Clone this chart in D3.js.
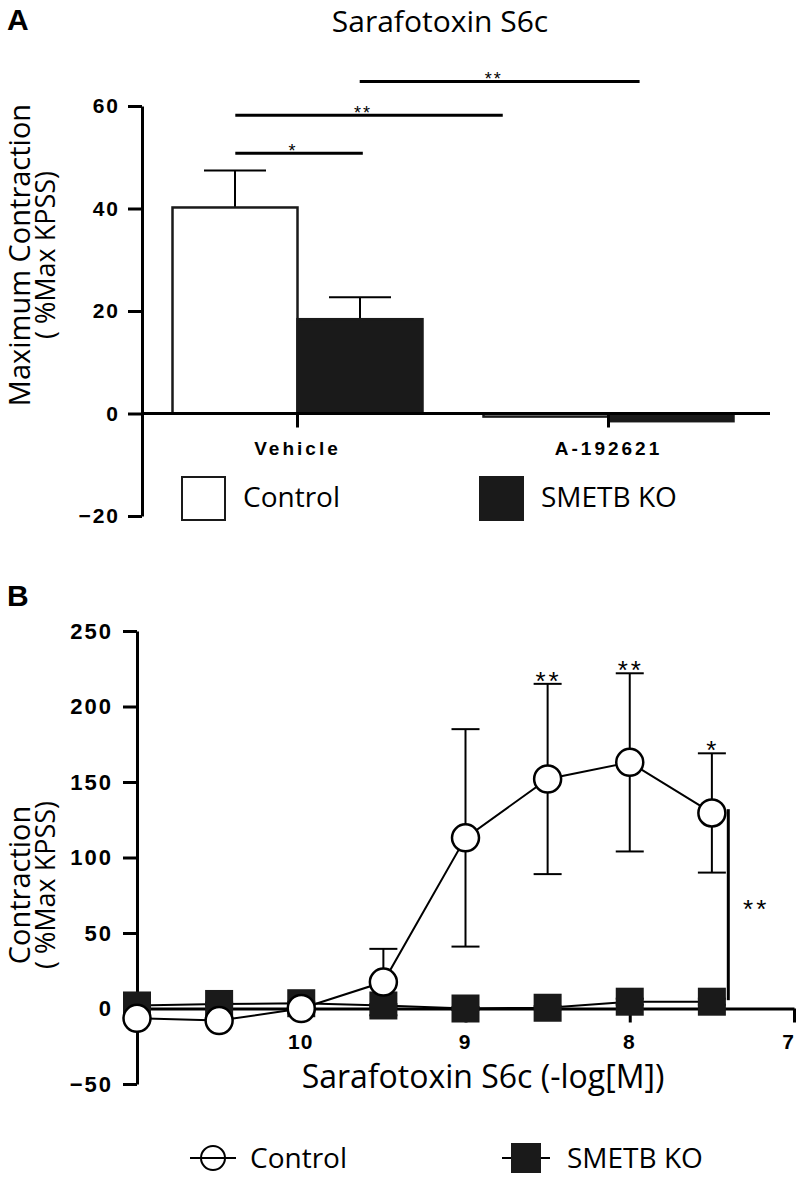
<!DOCTYPE html>
<html>
<head>
<meta charset="utf-8">
<script src="https://cdn.jsdelivr.net/npm/d3@7"></script>
<style>
body { margin: 0; background: #fff; }
.lab { font-family: "Open Sans", sans-serif; fill: #000; }
.tick text { font-family: "Liberation Sans", Arial, sans-serif; font-weight: bold; fill: #000; }
</style>
</head>
<body>
<script>
// panel A - maximum contraction
const categories = ["Vehicle", "A-192621"];
const groups = ["Control", "SMETB KO"];
const controlMax = [40.2, -0.6];
const controlMaxErr = [7.2, 0];
const koMax = [18.4, -1.5];
const koMaxErr = [4.3, 0];
const yTicksA = [-20, 0, 20, 40, 60];
// significance bars (position 0 = Vehicle, 1 = A-192621)
const sigFrom = [-0.2, -0.2, 0.2];
const sigTo = [0.21, 0.66, 1.1];
const sigLevel = [50.8, 58.2, 64.8];
const sigLabel = ["*", "**", "**"];

// panel B - concentration response
const doses = [11, 10.5, 10, 9.5, 9, 8.5, 8, 7.5];
const controlResp = [-6.5, -8, 0, 17.5, 113, 152, 163, 129.5];
const controlErr = [2, 2, 2, 22, 72, 63, 59, 39.5];
const koResp = [2, 3, 3.5, 2, 0, 0.5, 4.5, 4.5];
const koErr = [1, 1, 1, 1, 1, 1, 2, 2];
const starsB = ["", "", "", "", "", "**", "**", "*"];
const xTicksB = [10, 9, 8, 7];
const yTicksB = [-50, 0, 50, 100, 150, 200, 250];

const w = 800, h = 1179;
const svg = d3.select("body").append("svg")
  .attr("width", w).attr("height", h);

// ---------------- panel A ----------------
svg.append("text").attr("class", "lab").attr("x", 7).attr("y", 30)
  .style("font-family", "Liberation Sans, Arial").style("font-weight", "bold")
  .style("font-size", "30px").text("A");
svg.append("text").attr("class", "lab").attr("x", 440).attr("y", 32)
  .attr("text-anchor", "middle").style("font-size", "30px").text("Sarafotoxin S6c");

const yA = d3.scaleLinear().domain([-20, 60]).range([516, 106]);
const xA = d3.scaleBand().domain(categories).range([142, 764]);
const xSub = d3.scaleBand().domain(groups).range([-125, 125]);
const posA = d3.scaleLinear().domain([0, 1])
  .range([xA("Vehicle") + xA.bandwidth() / 2, xA("A-192621") + xA.bandwidth() / 2]);

const barsA = [];
categories.forEach((c, i) => {
  barsA.push({ cat: c, grp: "Control", v: controlMax[i], e: controlMaxErr[i] });
  barsA.push({ cat: c, grp: "SMETB KO", v: koMax[i], e: koMaxErr[i] });
});

const gA = svg.append("g");
// error bars (upper only)
const eb = gA.selectAll(".eb").data(barsA.filter(d => d.e > 0)).enter().append("g");
const cxA = d => xA(d.cat) + xA.bandwidth() / 2 + xSub(d.grp) + xSub.bandwidth() / 2;
eb.append("line").attr("x1", cxA).attr("x2", cxA)
  .attr("y1", d => yA(d.v)).attr("y2", d => yA(d.v + d.e))
  .attr("stroke", "#000").attr("stroke-width", 2);
eb.append("line").attr("x1", d => cxA(d) - 31).attr("x2", d => cxA(d) + 31)
  .attr("y1", d => yA(d.v + d.e)).attr("y2", d => yA(d.v + d.e))
  .attr("stroke", "#000").attr("stroke-width", 2);

gA.selectAll("rect.bar").data(barsA).enter().append("rect")
  .attr("class", "bar")
  .attr("x", d => xA(d.cat) + xA.bandwidth() / 2 + xSub(d.grp))
  .attr("width", xSub.bandwidth())
  .attr("y", d => yA(Math.max(0, d.v)))
  .attr("height", d => Math.abs(yA(d.v) - yA(0)))
  .attr("fill", d => d.grp === "Control" ? "#fff" : "#1a1a1a")
  .attr("stroke", "#1a1a1a").attr("stroke-width", 2.5);

// axes A
const yAxisA = d3.axisLeft(yA).tickValues(yTicksA).tickSize(14).tickSizeOuter(0).tickPadding(8);
const gyA = svg.append("g").attr("transform", "translate(142,0)").call(yAxisA);
gyA.selectAll("line,path").attr("stroke", "#000").attr("stroke-width", 3);
gyA.selectAll("text").style("font-size", "21px").style("letter-spacing", "2px");

const xAxisA = d3.axisBottom(xA).tickSize(14).tickSizeOuter(0).tickPadding(14);
const gxA = svg.append("g").attr("transform", "translate(0," + yA(0) + ")").call(xAxisA);
gxA.select(".domain").attr("d", "M142,0H770");
gxA.selectAll("line,path").attr("stroke", "#000").attr("stroke-width", 3);
gxA.selectAll("text").style("font-size", "19px").style("letter-spacing", "3px");

// significance A
sigLabel.forEach((s, i) => {
  svg.append("line").attr("x1", posA(sigFrom[i])).attr("x2", posA(sigTo[i]))
    .attr("y1", yA(sigLevel[i])).attr("y2", yA(sigLevel[i]))
    .attr("stroke", "#000").attr("stroke-width", 3);
  svg.append("text").attr("class", "lab")
    .attr("x", (posA(sigFrom[i]) + posA(sigTo[i])) / 2 - 6).attr("y", yA(sigLevel[i]) + 4)
    .attr("text-anchor", "middle").style("font-size", "18px")
    .style("font-family", "Liberation Sans, Arial").style("letter-spacing", "2px").text(s);
});

// y label A
const ylA = svg.append("g").attr("transform", "translate(30,255) rotate(-90)");
ylA.append("text").attr("class", "lab").attr("text-anchor", "middle")
  .style("font-size", "29px").text("Maximum Contraction");
ylA.append("text").attr("class", "lab").attr("text-anchor", "middle").attr("y", 25)
  .style("font-size", "27px").text("( %Max KPSS)");

// legend A
const legA = svg.append("g").selectAll("g").data(groups).enter().append("g")
  .attr("transform", (d, i) => "translate(" + (182 + i * 298) + ",477)");
legA.append("rect").attr("width", 43).attr("height", 43)
  .attr("fill", d => d === "Control" ? "#fff" : "#1a1a1a")
  .attr("stroke", "#1a1a1a").attr("stroke-width", 2);
legA.append("text").attr("class", "lab").attr("x", 61).attr("y", 30)
  .style("font-size", "28px").text(d => d);

// ---------------- panel B ----------------
svg.append("text").attr("class", "lab").attr("x", 7).attr("y", 606)
  .style("font-family", "Liberation Sans, Arial").style("font-weight", "bold")
  .style("font-size", "30px").text("B");

const xB = d3.scaleLinear().domain([11, 7]).range([137, 794]);
const yB = d3.scaleLinear().domain([-50, 250]).range([1084, 631]);

const yAxisB = d3.axisLeft(yB).tickValues(yTicksB).tickSize(14).tickSizeOuter(0).tickPadding(10);
const gyB = svg.append("g").attr("transform", "translate(137,0)").call(yAxisB);
gyB.selectAll("line,path").attr("stroke", "#000").attr("stroke-width", 3);
gyB.selectAll("text").style("font-size", "22px").style("letter-spacing", "2px");

const xAxisB = d3.axisBottom(xB).tickValues(xTicksB).tickFormat(d3.format("d"))
  .tickSize(14).tickSizeOuter(0).tickPadding(12);
const gxB = svg.append("g").attr("transform", "translate(0," + yB(0) + ")").call(xAxisB);
gxB.selectAll("line,path").attr("stroke", "#000").attr("stroke-width", 3);
gxB.selectAll("text").style("font-size", "21px").style("letter-spacing", "1px")
  .attr("dx", d => d === 7 ? -6 : -1);

const ptsC = doses.map((d, i) => ({ x: d, v: controlResp[i], e: controlErr[i], s: starsB[i] }));
const ptsK = doses.map((d, i) => ({ x: d, v: koResp[i], e: koErr[i] }));

const line = d3.line().x(d => xB(d.x)).y(d => yB(d.v));
const gB = svg.append("g");

[ptsC, ptsK].forEach(pts => {
  const e = gB.append("g").selectAll("g").data(pts).enter().append("g");
  e.append("line").attr("x1", d => xB(d.x)).attr("x2", d => xB(d.x))
    .attr("y1", d => yB(d.v - d.e)).attr("y2", d => yB(d.v + d.e))
    .attr("stroke", "#000").attr("stroke-width", 2);
  [-1, 1].forEach(sg => {
    e.append("line").attr("x1", d => xB(d.x) - 14).attr("x2", d => xB(d.x) + 14)
      .attr("y1", d => yB(d.v + sg * d.e)).attr("y2", d => yB(d.v + sg * d.e))
      .attr("stroke", "#000").attr("stroke-width", 2);
  });
});

gB.append("path").datum(ptsK).attr("d", line).attr("fill", "none")
  .attr("stroke", "#000").attr("stroke-width", 2);
gB.append("path").datum(ptsC).attr("d", line).attr("fill", "none")
  .attr("stroke", "#000").attr("stroke-width", 2);

gB.selectAll("rect.ko").data(ptsK).enter().append("rect").attr("class", "ko")
  .attr("x", d => xB(d.x) - 14).attr("y", d => yB(d.v) - 14)
  .attr("width", 28).attr("height", 28).attr("fill", "#1a1a1a");

gB.selectAll("circle.ctl").data(ptsC).enter().append("circle").attr("class", "ctl")
  .attr("cx", d => xB(d.x)).attr("cy", d => yB(d.v)).attr("r", 13.5)
  .attr("fill", "#fff").attr("stroke", "#000").attr("stroke-width", 2.5);

gB.selectAll("text.star").data(ptsC.filter(d => d.s)).enter().append("text")
  .attr("class", "lab star").attr("x", d => xB(d.x) + 1).attr("y", d => yB(d.v + d.e) + 6)
  .attr("text-anchor", "middle").style("font-family", "Liberation Sans, Arial")
  .style("font-size", "26px").style("letter-spacing", "3px").text(d => d.s);

// overall significance line
gB.append("line").attr("x1", xB(7.4)).attr("x2", xB(7.4))
  .attr("y1", yB(132)).attr("y2", yB(5.5))
  .attr("stroke", "#000").attr("stroke-width", 3);
gB.append("text").attr("class", "lab").attr("x", xB(7.23)).attr("y", yB(60))
  .attr("text-anchor", "middle").style("font-family", "Liberation Sans, Arial")
  .style("font-size", "26px").style("letter-spacing", "3px").text("**");

// labels B
svg.append("text").attr("class", "lab").attr("x", 483).attr("y", 1088)
  .attr("text-anchor", "middle").style("font-size", "32px").text("Sarafotoxin S6c (-log[M])");
const ylB = svg.append("g").attr("transform", "translate(30,885) rotate(-90)");
ylB.append("text").attr("class", "lab").attr("text-anchor", "middle")
  .style("font-size", "29px").text("Contraction");
ylB.append("text").attr("class", "lab").attr("text-anchor", "middle").attr("y", 25)
  .style("font-size", "27px").text("( %Max KPSS)");

// legend B
const legB = svg.append("g");
legB.append("line").attr("x1", 190).attr("x2", 236).attr("y1", 1158).attr("y2", 1158)
  .attr("stroke", "#000").attr("stroke-width", 2);
legB.append("circle").attr("cx", 213).attr("cy", 1158).attr("r", 12)
  .attr("fill", "none").attr("stroke", "#000").attr("stroke-width", 2);
legB.append("text").attr("class", "lab").attr("x", 250).attr("y", 1168)
  .style("font-size", "28px").text(groups[0]);
legB.append("line").attr("x1", 502).attr("x2", 550).attr("y1", 1158).attr("y2", 1158)
  .attr("stroke", "#000").attr("stroke-width", 2);
legB.append("rect").attr("x", 511).attr("y", 1143).attr("width", 30).attr("height", 30)
  .attr("fill", "#1a1a1a");
legB.append("text").attr("class", "lab").attr("x", 567).attr("y", 1168)
  .style("font-size", "28px").text(groups[1]);
</script>
</body>
</html>
